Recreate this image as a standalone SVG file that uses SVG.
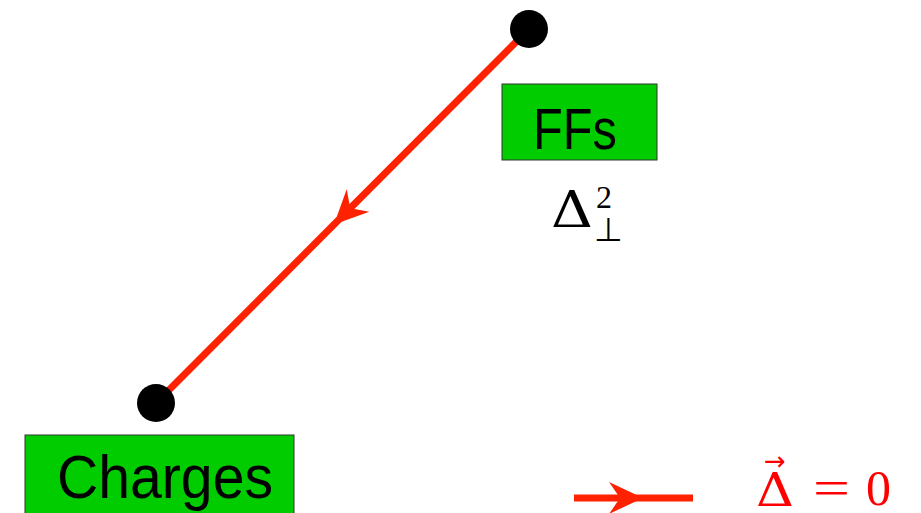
<svg xmlns="http://www.w3.org/2000/svg" width="921" height="513" viewBox="0 0 921 513">
<style>
.box{fill:#00cc00;stroke:#333;stroke-width:1}
.lbl{font-family:"Liberation Sans",Arial,sans-serif;fill:#000}
.math{font-family:"Liberation Serif","DejaVu Serif",serif}
.greek{font-family:"DejaVu Serif",serif}
.edge{fill:none;stroke:#ff2200;stroke-width:7}
.dot{fill:#000}
</style>
<defs>
<marker id="ah" markerUnits="userSpaceOnUse" viewBox="-40 -20 42 40" refX="0" refY="0" markerWidth="42" markerHeight="40" orient="auto">
<path d="M0,0 L-34,-16 L-23,0 L-34,16 Z" fill="#ff2200"/>
</marker>
</defs>
<g id="connectors">
<path class="edge" d="M529,29 L334,224.5 L156,403" marker-mid="url(#ah)"/>
</g>
<g id="ffs-dot"><circle class="dot" cx="529" cy="29" r="19"/></g>
<g id="charges-dot"><circle class="dot" cx="156" cy="403" r="19"/></g>
<g id="ffs">
<rect class="box" x="502" y="84" width="155" height="76"/>
<text class="lbl" x="533" y="149" font-size="58" textLength="84" lengthAdjust="spacingAndGlyphs">FFs</text>
</g>
<g id="delta-perp">
<text class="greek" x="551" y="227" font-size="51" textLength="42" lengthAdjust="spacingAndGlyphs">Δ</text>
<text class="math" x="596" y="208" font-size="32">2</text>
<text x="594" y="241" font-size="33" font-family="DejaVu Sans,sans-serif">⊥</text>
</g>
<g id="charges">
<rect class="box" x="25" y="435" width="269" height="82"/>
<text class="lbl" x="57" y="498" font-size="62" textLength="216" lengthAdjust="spacingAndGlyphs">Charges</text>
</g>
<g id="legend">
<path class="edge" d="M574,498 L643,498 L693,498" marker-mid="url(#ah)"/>
<text class="greek" x="756" y="506" font-size="47" fill="#ff0000" textLength="38" lengthAdjust="spacingAndGlyphs">Δ</text>
<text x="764" y="470" font-size="26" fill="#ff0000" font-family="DejaVu Sans,sans-serif">→</text>
<text class="math" x="813" y="505" font-size="50" fill="#ff0000" textLength="37" lengthAdjust="spacingAndGlyphs">=</text>
<text class="math" x="866" y="505" font-size="50" fill="#ff0000">0</text>
</g>
</svg>
